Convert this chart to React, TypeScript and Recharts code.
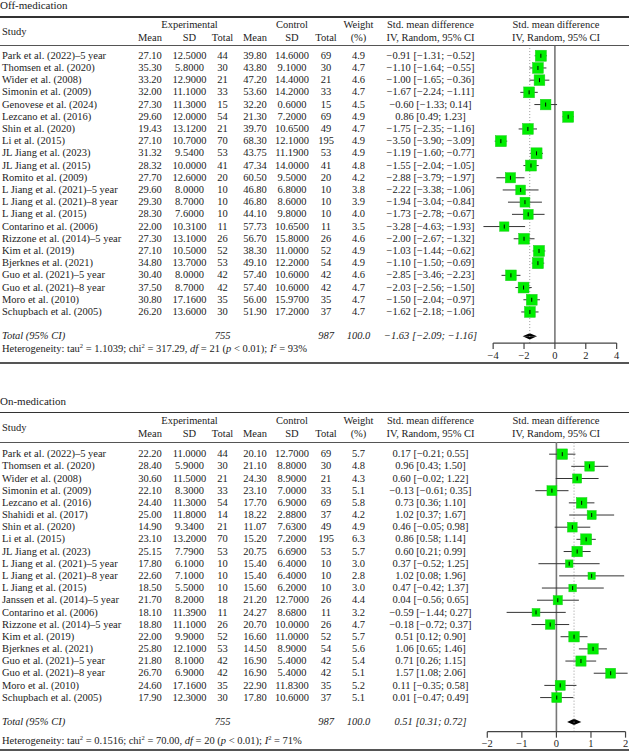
import React from 'react';
import { ComposedChart, Scatter, ErrorBar, Area, XAxis, YAxis, ReferenceLine } from 'recharts';

// ─── Off-medication data ──────────────────────────────────────────────────────
const offStudies = [
  'Park et al. (2022)–5 year', 'Thomsen et al. (2020)', 'Wider et al. (2008)', 'Simonin et al. (2009)',
  'Genovese et al. (2024)', 'Lezcano et al. (2016)', 'Shin et al. (2020)', 'Li et al. (2015)',
  'JL Jiang et al. (2023)', 'JL Jiang et al. (2015)', 'Romito et al. (2009)', 'L Jiang et al. (2021)–5 year',
  'L Jiang et al. (2021)–8 year', 'L Jiang et al. (2015)', 'Contarino et al. (2006)', 'Rizzone et al. (2014)–5 year',
  'Kim et al. (2019)', 'Bjerknes et al. (2021)', 'Guo et al. (2021)–5 year', 'Guo et al. (2021)–8 year',
  'Moro et al. (2010)', 'Schupbach et al. (2005)',
];
const offExpMean = [27.1, 35.3, 33.2, 32.0, 27.3, 29.6, 19.43, 27.1, 31.32, 28.32, 27.7, 29.6, 29.3, 28.3, 22.0, 27.3, 27.1, 34.8, 30.4, 37.5, 30.8, 26.2];
const offExpSd = [12.5, 5.8, 12.9, 11.1, 11.3, 12.0, 13.12, 10.7, 9.54, 10.0, 12.6, 8.0, 8.7, 7.6, 10.31, 13.1, 10.5, 13.7, 8.0, 8.7, 17.16, 13.6];
const offExpN = [44, 30, 21, 33, 15, 54, 21, 70, 53, 41, 20, 10, 10, 10, 11, 26, 52, 53, 42, 42, 35, 30];
const offCtlMean = [39.8, 43.8, 47.2, 53.6, 32.2, 21.3, 39.7, 68.3, 43.75, 47.34, 60.5, 46.8, 46.8, 44.1, 57.73, 56.7, 38.3, 49.1, 57.4, 57.4, 56.0, 51.9];
const offCtlSd = [14.6, 9.1, 14.4, 14.2, 0.6, 7.2, 10.65, 12.1, 11.19, 14.0, 9.5, 6.8, 8.6, 9.8, 10.65, 15.8, 11.0, 12.2, 10.6, 10.6, 15.97, 17.2];
const offCtlN = [69, 30, 21, 33, 15, 69, 49, 195, 53, 41, 20, 10, 10, 10, 11, 26, 52, 54, 42, 42, 35, 37];
const offWeight = [4.9, 4.7, 4.6, 4.7, 4.5, 4.9, 4.7, 4.9, 4.9, 4.8, 4.2, 3.8, 3.9, 4.0, 3.5, 4.6, 4.9, 4.9, 4.6, 4.7, 4.7, 4.7];
const offSmd = [-0.91, -1.1, -1.0, -1.67, -0.6, 0.86, -1.75, -3.5, -1.19, -1.55, -2.88, -2.22, -1.94, -1.73, -3.28, -2.0, -1.03, -1.1, -2.85, -2.03, -1.5, -1.62];
const offLow = [-1.31, -1.64, -1.65, -2.24, -1.33, 0.49, -2.35, -3.9, -1.6, -2.04, -3.79, -3.38, -3.04, -2.78, -4.63, -2.67, -1.44, -1.5, -3.46, -2.56, -2.04, -2.18];
const offHigh = [-0.52, -0.55, -0.36, -1.11, 0.14, 1.23, -1.16, -3.09, -0.77, -1.05, -1.97, -1.06, -0.84, -0.67, -1.93, -1.32, -0.62, -0.69, -2.23, -1.5, -0.97, -1.06];
const offTotal = { expN: 755, ctlN: 987, weight: 100.0, smd: -1.63, low: -2.09, high: -1.16 };
const offHet = { tau2: '1.1039', chi2: '317.29', df: 21, i2: 93 };
const offTicks = [-4, -2, 0, 2, 4];

// ─── On-medication data ───────────────────────────────────────────────────────
const onStudies = [
  'Park et al. (2022)–5 year', 'Thomsen et al. (2020)', 'Wider et al. (2008)', 'Simonin et al. (2009)',
  'Lezcano et al. (2016)', 'Shahidi et al. (2017)', 'Shin et al. (2020)', 'Li et al. (2015)',
  'JL Jiang et al. (2023)', 'L Jiang et al. (2021)–5 year', 'L Jiang et al. (2021)–8 year', 'L Jiang et al. (2015)',
  'Janssen et al. (2014)–5 year', 'Contarino et al. (2006)', 'Rizzone et al. (2014)–5 year', 'Kim et al. (2019)',
  'Bjerknes et al. (2021)', 'Guo et al. (2021)–5 year', 'Guo et al. (2021)–8 year', 'Moro et al. (2010)',
  'Schupbach et al. (2005)',
];
const onExpMean = [22.2, 28.4, 30.6, 22.1, 24.4, 25.0, 14.9, 23.1, 25.15, 17.8, 22.6, 18.5, 21.7, 18.1, 18.8, 22.0, 25.8, 21.8, 26.7, 24.6, 17.9];
const onExpSd = [11.0, 5.9, 11.5, 8.3, 11.3, 11.8, 9.34, 13.2, 7.79, 6.1, 7.1, 5.5, 8.2, 11.39, 11.1, 9.9, 12.1, 8.1, 6.9, 17.16, 12.3];
const onExpN = [44, 30, 21, 33, 54, 14, 21, 70, 53, 10, 10, 10, 18, 11, 26, 52, 53, 42, 42, 35, 30];
const onCtlMean = [20.1, 21.1, 24.3, 23.1, 17.7, 18.22, 11.07, 15.2, 20.75, 15.4, 15.4, 15.6, 21.2, 24.27, 20.7, 16.6, 14.5, 16.9, 16.9, 22.9, 17.8];
const onCtlSd = [12.7, 8.8, 8.9, 7.0, 6.9, 2.88, 7.63, 7.2, 6.69, 6.4, 6.4, 6.2, 12.7, 8.68, 10.0, 11.0, 8.9, 5.4, 5.4, 11.83, 10.6];
const onCtlN = [69, 30, 21, 33, 69, 37, 49, 195, 53, 10, 10, 10, 26, 11, 26, 52, 54, 42, 42, 35, 37];
const onWeight = [5.7, 4.8, 4.3, 5.1, 5.8, 4.2, 4.9, 6.3, 5.7, 3.0, 2.8, 3.0, 4.4, 3.2, 4.7, 5.7, 5.6, 5.4, 5.1, 5.2, 5.1];
const onSmd = [0.17, 0.96, 0.6, -0.13, 0.73, 1.02, 0.46, 0.86, 0.6, 0.37, 1.02, 0.47, 0.04, -0.59, -0.18, 0.51, 1.06, 0.71, 1.57, 0.11, 0.01];
const onLow = [-0.21, 0.43, -0.02, -0.61, 0.36, 0.37, -0.05, 0.58, 0.21, -0.52, 0.08, -0.42, -0.56, -1.44, -0.72, 0.12, 0.65, 0.26, 1.08, -0.35, -0.47];
const onHigh = [0.55, 1.5, 1.22, 0.35, 1.1, 1.67, 0.98, 1.14, 0.99, 1.25, 1.96, 1.37, 0.65, 0.27, 0.37, 0.9, 1.46, 1.15, 2.06, 0.58, 0.49];
const onTotal = { expN: 755, ctlN: 987, weight: 100.0, smd: 0.51, low: 0.31, high: 0.72 };
const onHet = { tau2: '0.1516', chi2: '70.00', df: 20, i2: 71 };
const onTicks = [-2, -1, 0, 1, 2];

// ─── Layout ───────────────────────────────────────────────────────────────────
const FONT = '"Liberation Serif", "Times New Roman", serif';
const INK = '#1c1c1c';
const COL = { expMean: 150, expSd: 189.5, expN: 222.5, ctlMean: 255, ctlSd: 292, ctlN: 326, weight: 358.5, ci: 430.5, plot: 556 };

const offLayout = {
  title: 'Off-medication', titleY: 5, topRule: 17, hdr1: 24.5, hdr2: 38, studyY: 32, hdrRule: 45.5,
  row0: 55.7, step: 12.2, hetY: 349, bottomRule: 362.5,
  yDomain: [-0.8, 23.55], xDomain: [-5.5, 4.8], sq: 5,
};
const onLayout = {
  title: 'On-medication', titleY: 401, topRule: 412.5, hdr1: 421, hdr2: 433.5, studyY: 427.5, hdrRule: 442,
  row0: 454.3, step: 12.17, hetY: 740.5, bottomRule: 750,
  yDomain: [-1, 22.8], xDomain: [-2.5, 2.1], sq: 4.4,
};

function fmt(v: number, d: number) {
  return (v < 0 ? '\u2212' : '') + Math.abs(v).toFixed(d);
}
function ciText(m: number, lo: number, hi: number) {
  return `${fmt(m, 2)} [${fmt(lo, 2)}; ${fmt(hi, 2)}]`;
}

function T({ x, y, children, align = 'center', italic = false, size = 10.5 }: any) {
  const w = 160;
  const left = align === 'center' ? x - w / 2 : align === 'left' ? x : x - w;
  return (
    <div style={{
      position: 'absolute', left, top: y - 7, width: w, height: 14, lineHeight: '14px',
      textAlign: align, fontStyle: italic ? 'italic' : 'normal', fontSize: size, whiteSpace: 'nowrap', color: INK,
    }}>{children}</div>
  );
}

const supStyle: React.CSSProperties = { fontSize: 6.5, lineHeight: 0, verticalAlign: 'super' };

function Rule({ y, w = 1, color = '#444' }: { y: number; w?: number; color?: string }) {
  return <div style={{ position: 'absolute', left: 0, width: 629, top: y - w / 2, height: w, background: color }} />;
}

function Panel({ L, studies, expMean, expSd, expN, ctlMean, ctlSd, ctlN, weight, smd, low, high, total, het, ticks }: any) {
  const n = studies.length;
  const totalRow = n + 1;
  const rowY = (i: number) => L.row0 + i * L.step;
  const plotTop = rowY(L.yDomain[0]);
  const plotH = (L.yDomain[1] - L.yDomain[0]) * L.step;
  const axisH = 20;

  const points = studies.map((s: string, i: number) => ({
    name: s, x: smd[i], y: i, w: weight[i], err: [smd[i] - low[i], high[i] - smd[i]],
  }));
  const upper = [
    { x: total.low, y: totalRow }, { x: total.smd, y: totalRow - 0.26 }, { x: total.high, y: totalRow },
  ];
  const lower = [
    { x: total.low, y: totalRow }, { x: total.smd, y: totalRow + 0.26 }, { x: total.high, y: totalRow },
  ];

  const Square = (p: any) => {
    const s = L.sq * Math.sqrt(p.payload.w);
    return <rect x={p.cx - s / 2} y={p.cy - s / 2} width={s} height={s} fill="#00ee00" stroke="#22cc22" strokeWidth={0.5} />;
  };
  const Tick = (p: any) => <line x1={p.cx} x2={p.cx} y1={p.cy - 2} y2={p.cy + 2} stroke="#000" strokeWidth={1} />;

  return (
    <>
      <T x={0} y={L.titleY} align="left" size={11}>{L.title}</T>
      <Rule y={L.topRule} w={1.5} color="#333" />
      <T x={2} y={L.studyY} align="left">Study</T>
      <T x={COL.expSd} y={L.hdr1}>Experimental</T>
      <T x={COL.ctlSd} y={L.hdr1}>Control</T>
      <T x={COL.weight} y={L.hdr1}>Weight</T>
      <T x={COL.ci} y={L.hdr1}>Std. mean difference</T>
      <T x={COL.plot} y={L.hdr1}>Std. mean difference</T>
      <T x={COL.expMean} y={L.hdr2}>Mean</T>
      <T x={COL.expSd} y={L.hdr2}>SD</T>
      <T x={COL.expN} y={L.hdr2}>Total</T>
      <T x={COL.ctlMean} y={L.hdr2}>Mean</T>
      <T x={COL.ctlSd} y={L.hdr2}>SD</T>
      <T x={COL.ctlN} y={L.hdr2}>Total</T>
      <T x={COL.weight} y={L.hdr2}>(%)</T>
      <T x={COL.ci} y={L.hdr2}>IV, Random, 95% CI</T>
      <T x={COL.plot} y={L.hdr2}>IV, Random, 95% CI</T>
      <Rule y={L.hdrRule} w={1} color="#555" />

      {studies.map((s: string, i: number) => (
        <React.Fragment key={s + i}>
          <T x={2} y={rowY(i)} align="left">{s}</T>
          <T x={COL.expMean} y={rowY(i)}>{expMean[i].toFixed(2)}</T>
          <T x={COL.expSd} y={rowY(i)}>{expSd[i].toFixed(4)}</T>
          <T x={COL.expN} y={rowY(i)}>{expN[i]}</T>
          <T x={COL.ctlMean} y={rowY(i)}>{ctlMean[i].toFixed(2)}</T>
          <T x={COL.ctlSd} y={rowY(i)}>{ctlSd[i].toFixed(4)}</T>
          <T x={COL.ctlN} y={rowY(i)}>{ctlN[i]}</T>
          <T x={COL.weight} y={rowY(i)}>{weight[i].toFixed(1)}</T>
          <T x={COL.ci} y={rowY(i)}>{ciText(smd[i], low[i], high[i])}</T>
        </React.Fragment>
      ))}

      <T x={2} y={rowY(totalRow)} align="left" italic>Total (95% CI)</T>
      <T x={COL.expN} y={rowY(totalRow)} italic>{total.expN}</T>
      <T x={COL.ctlN} y={rowY(totalRow)} italic>{total.ctlN}</T>
      <T x={COL.weight} y={rowY(totalRow)} italic>{total.weight.toFixed(1)}</T>
      <T x={COL.ci} y={rowY(totalRow)} italic>{ciText(total.smd, total.low, total.high)}</T>
      <T x={2} y={L.hetY} align="left">
        Heterogeneity: tau<sup style={supStyle}>2</sup> = {het.tau2}; chi<sup style={supStyle}>2</sup> = {het.chi2}, <i>df</i> = {het.df} (<i>p</i> &lt; 0.01); <i>I</i><sup style={supStyle}>2</sup> = {het.i2}%
      </T>
      <Rule y={L.bottomRule} w={2} color="#555" />

      <div style={{ position: 'absolute', left: 470, top: plotTop, width: 159, height: plotH + axisH }}>
        <ComposedChart width={159} height={plotH + axisH} margin={{ top: 0, right: 0, bottom: 0, left: 0 }}>
          <XAxis
            type="number" dataKey="x" domain={L.xDomain} ticks={ticks} interval={0} allowDataOverflow
            axisLine={false} tickLine={{ stroke: '#444', strokeWidth: 1.2 }} tickSize={6} height={axisH}
            tick={{ fontSize: 10.5, fill: INK, fontFamily: FONT }}
            tickFormatter={(v: number) => fmt(v, 0)}
          />
          <YAxis type="number" dataKey="y" domain={L.yDomain} reversed hide width={0} allowDataOverflow />
          <ReferenceLine x={0} stroke="#777" strokeWidth={1.6} ifOverflow="visible" />
          <ReferenceLine x={total.smd} stroke="#999" strokeDasharray="1 2" ifOverflow="visible" />
          <ReferenceLine
            segment={[{ x: ticks[0], y: L.yDomain[1] }, { x: ticks[ticks.length - 1], y: L.yDomain[1] }]}
            stroke="#444" strokeWidth={1.2} ifOverflow="visible"
          />
          <Scatter data={points} shape={Square} isAnimationActive={false} />
          <Scatter data={points} shape={Tick} isAnimationActive={false}>
            <ErrorBar dataKey="err" direction="x" width={0} stroke="#333" strokeWidth={1} isAnimationActive={false} />
          </Scatter>
          <Area data={upper} dataKey="y" type="linear" baseValue={totalRow} stroke="none" fill="#000" fillOpacity={1}
                dot={false} activeDot={false} isAnimationActive={false} />
          <Area data={lower} dataKey="y" type="linear" baseValue={totalRow} stroke="none" fill="#000" fillOpacity={1}
                dot={false} activeDot={false} isAnimationActive={false} />
        </ComposedChart>
      </div>
    </>
  );
}

export default function App() {
  return (
    <div style={{ position: 'absolute', left: 0, top: 0, width: 629, height: 751, background: '#fff', fontFamily: FONT, overflow: 'hidden' }}>
      <Panel L={offLayout} studies={offStudies} expMean={offExpMean} expSd={offExpSd} expN={offExpN}
             ctlMean={offCtlMean} ctlSd={offCtlSd} ctlN={offCtlN} weight={offWeight}
             smd={offSmd} low={offLow} high={offHigh} total={offTotal} het={offHet} ticks={offTicks} />
      <Panel L={onLayout} studies={onStudies} expMean={onExpMean} expSd={onExpSd} expN={onExpN}
             ctlMean={onCtlMean} ctlSd={onCtlSd} ctlN={onCtlN} weight={onWeight}
             smd={onSmd} low={onLow} high={onHigh} total={onTotal} het={onHet} ticks={onTicks} />
    </div>
  );
}
